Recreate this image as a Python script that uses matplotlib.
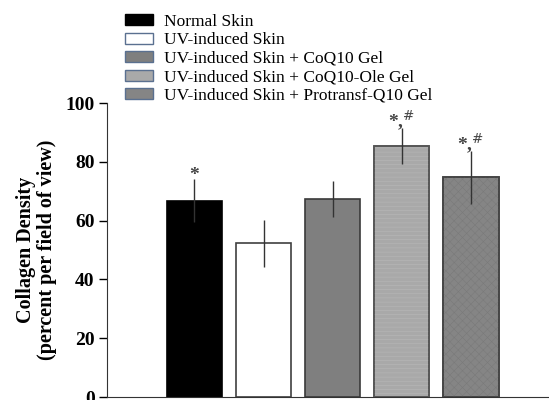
import numpy as np
import matplotlib
matplotlib.use('Agg')
import matplotlib.pyplot as plt
from matplotlib.patches import Patch

plt.rcParams['font.family'] = ['Liberation Serif', 'DejaVu Serif']
plt.rcParams['hatch.linewidth'] = 0.4

# 数据
groups = ['Normal Skin', 'UV-induced Skin', 'UV-induced Skin + CoQ10 Gel',
          'UV-induced Skin + CoQ10-Ole Gel', 'UV-induced Skin + Protransf-Q10 Gel']
density = [66.8, 52.3, 67.3, 85.4, 74.7]
errors = [7.3, 8.0, 6.2, 6.0, 8.9]
marks = ['*', '', '', '*,$^{\\#}$', '*,$^{\\#}$']

# 样式
faces = ['black', 'white', '#7f7f7f', '#a9a9a9', '#858585']
edges = ['black', '#404040', '#3a3a3a', '#555555', '#444444']
hatches = [None, None, None, '----', 'xxxx']
hatch_cols = [None, None, None, '#b8b8b8', '#7a7a7a']

fig = plt.figure(figsize=(5.49, 4.0), dpi=100)
ax = fig.add_axes([107/549, 3/400, 1 - 107/549, 294/400])

x = np.arange(len(groups))
for i in x:
    ax.bar(i, density[i], width=0.8, color=faces[i], edgecolor=edges[i],
           linewidth=1.2, zorder=2)
    if hatches[i]:
        ax.bar(i, density[i], width=0.8, color='none', edgecolor=hatch_cols[i],
               hatch=hatches[i], linewidth=0, zorder=2.5)
        ax.bar(i, density[i], width=0.8, color='none', edgecolor=edges[i],
               linewidth=1.2, zorder=2.6)
    ax.errorbar(i, density[i], yerr=errors[i], fmt='none', ecolor='#333333',
                elinewidth=1.0, capsize=0, zorder=3)
    if marks[i]:
        ax.text(i, density[i] + errors[i] - 1.6, marks[i], ha='center', va='bottom',
                fontsize=14, fontweight='bold', color='#444444')

ax.set_xlim(-1.266, 5.13)
ax.set_ylim(0, 100)
ax.set_yticks([0, 20, 40, 60, 80, 100])
ax.set_xticks([])
for lbl in ax.get_yticklabels():
    lbl.set_fontweight('bold')
ax.tick_params(axis='y', direction='out', length=6, width=1, labelsize=14, pad=3)
for s in ['top', 'right']:
    ax.spines[s].set_visible(False)
ax.spines['left'].set_color('#333333')
ax.spines['bottom'].set_color('#333333')
ax.set_ylabel('Collagen Density\n(percent per field of view)', fontsize=14.5,
              fontweight='bold', labelpad=6, linespacing=1.05)

handles = []
for i in range(len(groups)):
    handles.append(Patch(facecolor=faces[i], edgecolor='#5a7090' if i > 0 else 'black',
                         linewidth=1.0))
leg = fig.legend(handles, groups, loc='upper left', bbox_to_anchor=(125/549, 1 - 14/400),
                 frameon=False, fontsize=12.5, handlelength=1.6, handleheight=0.6,
                 handletextpad=0.65, labelspacing=0.14, borderaxespad=0, borderpad=0)

fig.savefig('out.png', dpi=100)
